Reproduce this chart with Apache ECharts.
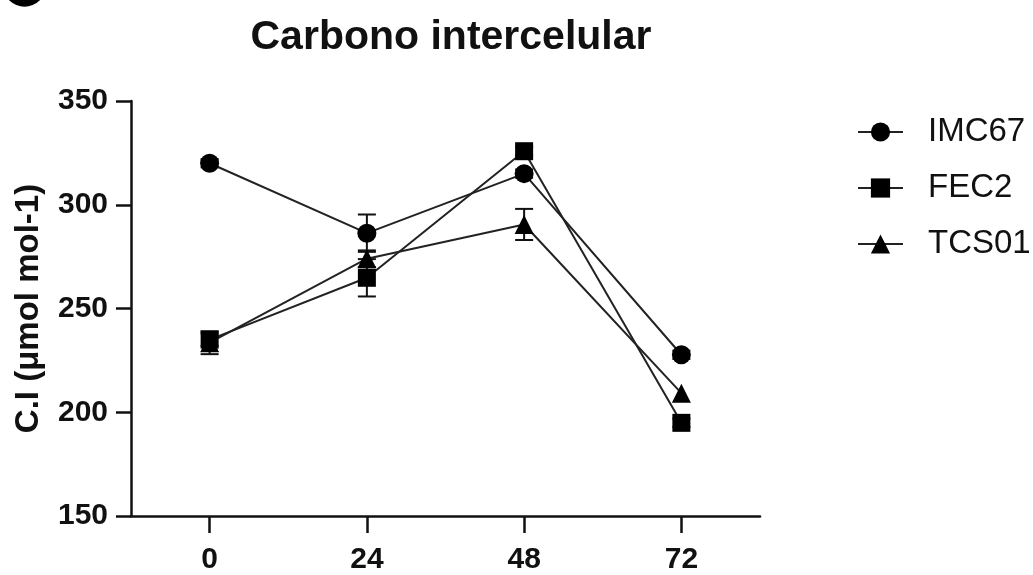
<!DOCTYPE html>
<html>
<head>
<meta charset="utf-8">
<title>Carbono intercelular</title>
<script src="https://cdn.jsdelivr.net/npm/echarts@6/dist/echarts.min.js"></script>
<style>
  html, body { margin: 0; padding: 0; background: #fff; }
  #chart { width: 1033px; height: 575px; }
</style>
</head>
<body>
<div id="chart"></div>
<script>
// Sampling times (hours)
const hours = [0, 24, 48, 72];

// Intercellular carbon per genotype (mean and error)
const imc67 = [320, 286.3, 315, 227.7];
const imc67Err = [2, 9, 2, 2];
const fec2 = [235, 264.8, 325.8, 194.9];
const fec2Err = [3, 9, 2, 2];
const tcs01 = [233.5, 274, 290.5, 209.2];
const tcs01Err = [5.5, 4, 7.5, 0];

const yTicks = [150, 200, 250, 300, 350];

const FONT = "'Liberation Sans', Arial, Helvetica, sans-serif";
const INK = '#111';

function points(vals) {
  return hours.map((h, i) => [h, vals[i]]);
}
function errRows(vals, errs) {
  return hours.map((h, i) => [h, vals[i] - errs[i], vals[i] + errs[i]]);
}

// Vertical error bar with caps (nothing drawn for a zero error)
function renderErr(params, api) {
  const x = api.value(0);
  if (api.value(2) - api.value(1) <= 0) return null;
  const lo = api.coord([x, api.value(1)]);
  const hi = api.coord([x, api.value(2)]);
  const half = 9;
  const style = { stroke: INK, lineWidth: 2 };
  return {
    type: 'group',
    children: [
      { type: 'line', shape: { x1: lo[0], y1: lo[1], x2: hi[0], y2: hi[1] }, style },
      { type: 'line', shape: { x1: hi[0] - half, y1: hi[1], x2: hi[0] + half, y2: hi[1] }, style },
      { type: 'line', shape: { x1: lo[0] - half, y1: lo[1], x2: lo[0] + half, y2: lo[1] }, style }
    ]
  };
}

function lineSeries(name, vals, symbol, size, z) {
  return {
    name,
    type: 'line',
    data: points(vals),
    symbol,
    symbolSize: size,
    showAllSymbol: true,
    z,
    lineStyle: { color: '#222', width: 2 },
    itemStyle: { color: '#000', borderWidth: 0 },
    emphasis: { disabled: true },
    animation: false
  };
}
function errSeries(vals, errs) {
  return {
    type: 'custom',
    data: errRows(vals, errs),
    renderItem: renderErr,
    z: 1,
    silent: true,
    animation: false
  };
}

const chart = echarts.init(document.getElementById('chart'), null, { renderer: 'canvas' });

chart.setOption({
  backgroundColor: '#fff',
  animation: false,
  title: {
    text: 'Carbono intercelular',
    left: 446,
    top: 12,
    textAlign: 'center',
    textStyle: { fontFamily: FONT, fontWeight: 'bold', fontSize: 41, color: INK }
  },
  legend: {
    orient: 'vertical',
    left: 857,
    top: 112,
    padding: 0,
    itemWidth: 45,
    itemHeight: 24,
    itemGap: 16,
    data: ['IMC67', 'FEC2', 'TCS01'],
    textStyle: { fontFamily: FONT, fontSize: 33, color: INK, lineHeight: 40, padding: [0, 0, 0, 20] }
  },
  grid: { left: 131, top: 101, width: 629, height: 419, containLabel: false },
  xAxis: {
    type: 'value',
    min: -12,
    max: 84,
    splitLine: { show: false },
    axisLine: { onZero: false, lineStyle: { color: INK, width: 2.5 } },
    axisTick: { customValues: hours, length: 17, lineStyle: { color: INK, width: 2.5 } },
    axisLabel: {
      customValues: hours,
      margin: 29,
      fontFamily: FONT, fontWeight: 'bold', fontSize: 30, color: INK
    }
  },
  yAxis: {
    type: 'value',
    min: yTicks[0],
    max: yTicks[yTicks.length - 1],
    interval: 50,
    splitLine: { show: false },
    axisLine: { show: true, onZero: false, lineStyle: { color: INK, width: 2.5 } },
    axisTick: { show: true, length: 15, lineStyle: { color: INK, width: 2.5 } },
    axisLabel: { margin: 23, fontFamily: FONT, fontWeight: 'bold', fontSize: 30, color: INK },
    name: 'C.I (μmol mol-1)',
    nameLocation: 'middle',
    nameGap: 86,
    nameTextStyle: { fontFamily: FONT, fontWeight: 'bold', fontSize: 33, color: INK }
  },
  graphic: [
    { type: 'circle', shape: { cx: 24.5, cy: -14.6, r: 21.3 }, style: { fill: '#000' }, silent: true }
  ],
  series: [
    errSeries(imc67, imc67Err),
    errSeries(fec2, fec2Err),
    errSeries(tcs01, tcs01Err),
    lineSeries('TCS01', tcs01, 'triangle', 19, 3),
    lineSeries('FEC2', fec2, 'rect', 18, 4),
    lineSeries('IMC67', imc67, 'circle', 19, 5)
  ]
});
</script>
</body>
</html>
